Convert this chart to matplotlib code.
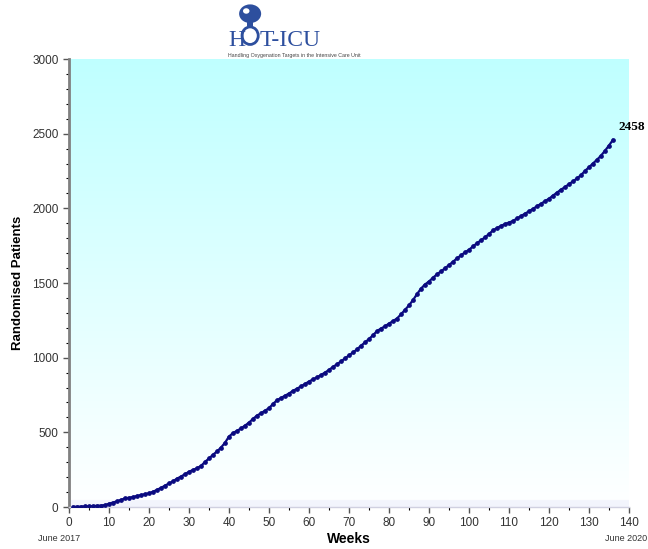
import matplotlib
matplotlib.use("Agg")
import matplotlib.pyplot as plt
import numpy as np
from matplotlib.patches import Circle, Ellipse, Rectangle

weeks = list(range(1, 137))
patients = [
    1, 2, 3, 4, 4, 6, 8, 10, 13, 22,
    30, 38, 48, 58, 62, 67, 74, 80, 86, 92,
    102, 115, 128, 143, 158, 172, 190, 204, 220, 236,
    248, 260, 275, 302, 325, 350, 372, 398, 430, 472,
    495, 510, 526, 545, 565, 590, 612, 628, 645, 662,
    690, 715, 730, 745, 760, 778, 792, 808, 824, 840,
    855, 868, 884, 900, 918, 938, 956, 975, 995, 1015,
    1035, 1055, 1080, 1102, 1125, 1150, 1178, 1195, 1210, 1228,
    1245, 1262, 1290, 1320, 1350, 1385, 1425, 1462, 1490, 1510,
    1535, 1558, 1578, 1598, 1620, 1642, 1665, 1685, 1705, 1722,
    1745, 1766, 1786, 1805, 1828, 1852, 1868, 1882, 1895, 1905,
    1915, 1932, 1948, 1964, 1980, 1996, 2014, 2030, 2048, 2064,
    2085, 2105, 2125, 2142, 2162, 2180, 2200, 2222, 2250, 2275,
    2300, 2325, 2352, 2385, 2420, 2458,
]
x_ticks = list(range(0, 141, 10))
y_ticks = list(range(0, 3001, 500))

plt.rcParams["font.family"] = ["Liberation Sans", "DejaVu Sans"]

fig = plt.figure(figsize=(6.48, 5.49), dpi=100)
ax = fig.add_axes([0.1065, 0.0765, 0.864, 0.816])

# gradient background: cyan at top fading to white, faint lavender band at the bottom
n = 256
top = np.array([0.75, 1.0, 1.0])
bottom = np.array([1.0, 1.0, 1.0])
t = np.linspace(0, 1, n)[:, None]
grad = top * (1 - t) + bottom * t
band = int(n * 0.985)
grad[band:] = [0.95, 0.96, 0.99]
ax.imshow(grad[:, None, :], extent=[0, 1, 0, 1], transform=ax.transAxes,
          aspect="auto", zorder=0)

ax.plot(weeks, patients, color="#0a0a80", lw=1.6, marker="o", ms=2.4,
        mfc="#0a0a80", mec="#0a0a80", zorder=3)

ax.set_xlim(0, 140)
ax.set_ylim(0, 3000)
ax.set_xticks(x_ticks)
ax.set_yticks(y_ticks)
ax.set_xticks(range(0, 141, 5), minor=True)
ax.set_yticks(range(0, 3001, 100), minor=True)
ax.tick_params(axis="both", labelsize=8.5, labelcolor="#333333", color="#555555")
ax.tick_params(axis="both", which="major", length=4, width=1)
ax.tick_params(axis="both", which="minor", length=2.5, width=0.8)

for s in ["top", "right"]:
    ax.spines[s].set_visible(False)
ax.spines["left"].set_color("#808080")
ax.spines["left"].set_linewidth(2)
ax.spines["bottom"].set_color("#d0d0e0")
ax.spines["bottom"].set_linewidth(1)

ax.set_ylabel("Randomised Patients", fontsize=9.5, fontweight="bold", labelpad=6)
ax.set_xlabel("Weeks", fontsize=10, fontweight="bold", labelpad=2)

ax.annotate(f"{patients[-1]}", (weeks[-1], patients[-1]), xytext=(4, 7),
            textcoords="offset points", fontsize=9.5, fontweight="bold",
            family="Liberation Serif", annotation_clip=False)

fig.text(0.058, 0.014, "June 2017", fontsize=6.5, color="#333333")
fig.text(0.998, 0.014, "June 2020", fontsize=6.5, color="#333333", ha="right")

# HOT-ICU logo
logo_blue = "#2d4f9e"
fig.text(0.352, 0.917, "H", fontsize=17, family="Liberation Serif",
         color=logo_blue, va="baseline")
fig.text(0.400, 0.917, "T-ICU", fontsize=17, family="Liberation Serif",
         color=logo_blue, va="baseline")
fig.add_artist(Ellipse((0.386, 0.935), 0.025, 0.032, transform=fig.transFigure,
                       fill=False, ec=logo_blue, lw=2.0))
fig.add_artist(Rectangle((0.381, 0.950), 0.010, 0.022, transform=fig.transFigure,
                         color=logo_blue, lw=0))
fig.add_artist(Circle((0.386, 0.975), 0.017, transform=fig.transFigure,
                      color=logo_blue, lw=0))
fig.add_artist(Circle((0.380, 0.980), 0.005, transform=fig.transFigure,
                      color="white", lw=0))
fig.text(0.352, 0.897, "Handling Oxygenation Targets in the Intensive Care Unit",
         fontsize=3.8, color="#444444")

fig.savefig("out.png", dpi=100)
